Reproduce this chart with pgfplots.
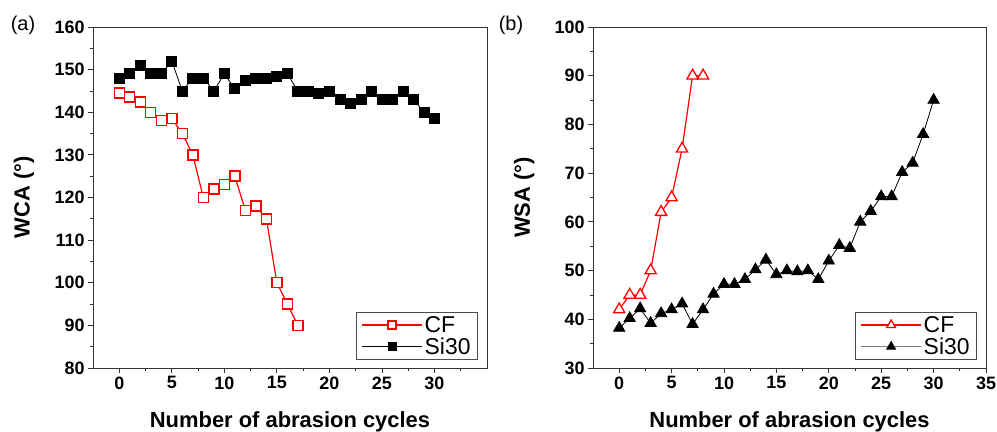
\documentclass[border=0pt]{standalone}
\usepackage{fontspec}
\setmainfont{Liberation Sans}
\usepackage{pgfplots}
\pgfplotsset{compat=1.18}
\pgfplotsset{
 myaxis/.style={
  scale only axis, width=394bp, height=341bp, anchor=south west,
  xmin=-2.5, xmax=35,
  tick align=outside, tick pos=left,
  major tick length=5bp, minor tick length=3bp,
  axis line style={black!80, line width=0.8bp},
  every tick/.style={black!80, line width=0.8bp},
  tick label style={font=\fontsize{18}{21}\selectfont\bfseries},
  /pgf/number format/assume math mode=true,
  xlabel={Number of abrasion cycles},
  every axis x label/.style={at={(axis description cs:0.5,-0.157)},anchor=center,font=\fontsize{22}{26}\selectfont\bfseries},
  every axis y label/.style={at={(axis description cs:-0.175,0.5)},rotate=90,anchor=center,font=\fontsize{22}{26}\selectfont\bfseries},
  legend style={at={(axis description cs:0.977,0.023)},anchor=south east,
    font=\fontsize{23}{27}\selectfont, draw=black!70, line width=0.8bp,
    row sep=0bp, inner xsep=5bp, inner ysep=2bp},
  legend cell align=left,
  legend image code/.code={\draw[mark repeat=2,mark phase=2,#1] plot coordinates {(0bp,0bp) (30bp,0bp) (60bp,0bp)};},
 }
}
\begin{document}
\begin{tikzpicture}
\path[use as bounding box] (0,0) rectangle (997bp,432bp);
\begin{axis}[myaxis, at={(93bp,64bp)},
  ymin=80, ymax=160, ytick={80,90,...,160}, minor ytick={85,95,...,155},
  xtick={0,5,...,30}, minor xtick={2.5,7.5,...,32.5},
  ylabel={WCA (°)}]
\addlegendimage{red, line width=1.2bp, mark=square*, mark size=4bp, mark options={solid, draw=red, fill=white, line width=1.3bp}}
\addlegendentry{CF}
\addlegendimage{black, line width=0.8bp, mark=square*, mark size=4bp, mark options={solid}}
\addlegendentry{Si30}
\addplot[red, line width=1.2bp, mark=square*, mark size=5bp, mark options={solid, draw=red, fill=white, line width=1.4bp}, forget plot]
 coordinates {(0,144.5)(1,143.6)(2,142.4)(3,140)(4,138)(5,138.5)(6,135)(7,130)(8,120)(9,122)(10,123)(11,125)(12,117)(13,118)(14,115)(15,100)(16,95)(17,90)};
\addplot[black, line width=0.8bp, mark=square*, mark size=5bp, mark options={solid}, forget plot]
 coordinates {(0,148)(1,149)(2,151)(3,149)(4,149)(5,152)(6,145)(7,148)(8,148)(9,145)(10,149)(11,145.5)(12,147.5)(13,148)(14,148)(15,148.3)(16,149)(17,145)(18,145)(19,144.4)(20,145)(21,143)(22,142)(23,143)(24,145)(25,143)(26,143)(27,145)(28,143)(29,140)(30,138.5)};
\end{axis}
\begin{axis}[myaxis, at={(593bp,64bp)}, width=393bp,
  ymin=30, ymax=100, ytick={30,40,...,100}, minor ytick={35,45,...,95},
  xtick={0,5,...,35}, minor xtick={2.5,7.5,...,32.5},
  ylabel={WSA (°)}]
\addlegendimage{red, line width=1.2bp, mark=triangle*, mark size=5bp, mark options={solid, draw=red, fill=white, line width=1.3bp}}
\addlegendentry{CF}
\addlegendimage{gray, line width=1bp, mark=triangle*, mark size=5bp, mark options={solid, black}}
\addlegendentry{Si30}
\addplot[red, line width=1.2bp, mark=triangle*, mark size=6.5bp, mark options={solid, draw=red, fill=white, line width=1.3bp}, forget plot]
 coordinates {(0,42)(1,45)(2,45)(3,50)(4,62)(5,65)(6,75)(7,90)(8,90)};
\addplot[black, line width=0.8bp, mark=triangle*, mark size=6.5bp, mark options={solid}, forget plot]
 coordinates {(0,38.2)(1,40.2)(2,42.2)(3,39.2)(4,41.2)(5,42)(6,43.2)(7,39)(8,42)(9,45.2)(10,47.2)(11,47.2)(12,48.2)(13,50.2)(14,52.2)(15,49.2)(16,50)(17,49.8)(18,50)(19,48.2)(20,52)(21,55.2)(22,54.6)(23,60)(24,62.2)(25,65.2)(26,65.2)(27,70.2)(28,72.1)(29,78)(30,85)};
\end{axis}
\node[font=\fontsize{20}{24}\selectfont, anchor=center] at (23bp,407bp) {(a)};
\node[font=\fontsize{20}{24}\selectfont, anchor=center] at (511bp,407bp) {(b)};
\end{tikzpicture}
\end{document}
